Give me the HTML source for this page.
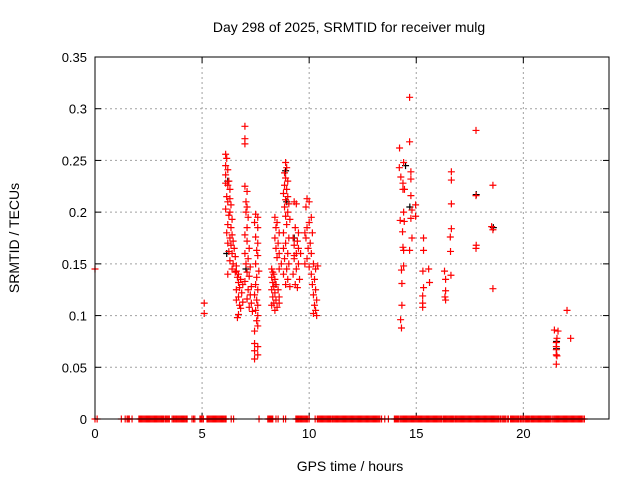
<!DOCTYPE html>
<html><head><meta charset="utf-8"><style>
body{margin:0;background:#fff;}
svg{display:block;font-family:"Liberation Sans",sans-serif;}
</style></head><body>
<svg id="chart" width="640" height="480" viewBox="0 0 640 480" xmlns="http://www.w3.org/2000/svg">
<rect width="640" height="480" fill="#fff"/>
<text x="349" y="32" font-size="14" text-anchor="middle">Day 298 of 2025, SRMTID for receiver mulg</text>
<text transform="translate(19,238) rotate(-90)" font-size="14" text-anchor="middle">SRMTID / TECUs</text>
<text x="350" y="471" font-size="14" text-anchor="middle">GPS time / hours</text>
<g id="grid"></g>
<g id="marks"></g>
<rect x="95" y="57" width="514" height="362" fill="none" stroke="#000" stroke-width="1"/>
</svg>
<script>
const xTicks=[0,5,10,15,20];
const yTicks=[0,0.05,0.1,0.15,0.2,0.25,0.3,0.35];
const yTickLabels=["0","0.05","0.1","0.15","0.2","0.25","0.3","0.35"];
const redTimes=[0,5.1,5.1,7.0,7.0,7.0,
6.1,6.15,6.1,6.2,6.1,6.25,6.1,6.2,6.3,6.15,6.3,6.2,6.35,6.1,6.3,6.25,6.4,6.2,6.35,6.15,6.4,6.3,6.45,6.2,6.35,6.5,6.25,6.4,6.55,6.3,6.45,6.6,6.4,6.55,6.2,
6.6,6.7,6.65,6.8,6.7,6.9,6.75,6.6,6.85,6.7,6.6,6.9,6.75,6.8,6.7,6.65,
7.0,7.1,7.05,7.1,7.05,7.15,7.1,7.0,7.1,7.2,7.0,7.15,7.05,7.25,7.1,7.2,7.0,7.3,7.15,7.25,7.1,7.3,7.2,7.35,
7.5,7.6,7.45,7.6,7.5,7.6,7.55,7.6,7.5,7.65,7.55,7.5,7.6,7.45,7.55,7.6,7.5,7.6,7.55,7.6,7.45,7.45,7.6,7.45,7.6,7.45,
8.25,8.3,8.35,8.25,8.4,8.3,8.45,8.35,8.25,8.4,8.3,8.45,8.35,8.25,8.5,8.4,8.6,8.55,8.6,
8.4,8.5,8.45,8.6,8.4,8.55,8.45,8.6,8.5,8.7,8.6,
8.9,8.95,8.85,8.9,9.0,8.85,8.95,8.8,9.0,8.9,9.05,8.85,9.0,8.9,9.1,8.95,8.8,9.05,8.9,8.8,9.0,8.85,9.05,8.95,8.8,9.0,8.9,9.1,
9.3,9.4,9.35,9.5,9.25,9.45,9.3,9.5,9.4,9.3,9.5,9.4,9.25,9.55,9.35,9.45,9.3,9.6,
9.9,10.0,9.85,10.1,10.0,9.9,10.15,9.85,10.05,9.95,10.1,9.9,10.2,10.0,10.3,10.1,10.25,10.15,10.3,10.2,10.35,10.25,10.3,10.2,10.35,9.8,9.8,10.4,
14.69,17.79,14.69,14.22,14.41,14.21,14.75,16.64,14.28,14.75,16.64,14.38,18.58,14.38,14.45,17.79,14.75,14.97,16.64,14.80,14.41,14.25,14.44,14.75,14.97,16.64,18.52,18.58,14.36,14.80,15.34,16.59,17.80,17.79,14.38,14.41,14.69,15.34,16.60,14.41,14.31,15.31,15.58,16.32,16.62,16.37,15.62,15.34,14.33,18.58,15.30,16.37,16.34,16.37,15.30,15.30,14.33,14.27,14.31,
22.04,21.45,21.62,21.57,22.21,21.54,21.54,21.54,21.54,21.57,21.54];
const redValues=[0.145,0.112,0.102,0.283,0.271,0.266,
0.256,0.252,0.245,0.241,0.236,0.230,0.228,0.226,0.222,0.215,0.213,0.210,0.207,0.203,0.200,0.197,0.193,0.188,0.185,0.180,0.178,0.175,0.172,0.170,0.168,0.165,0.162,0.160,0.157,0.153,0.150,0.148,0.145,0.142,0.140,
0.143,0.140,0.137,0.135,0.132,0.130,0.127,0.125,0.122,0.118,0.115,0.113,0.110,0.107,0.101,0.098,
0.225,0.220,0.210,0.205,0.200,0.195,0.185,0.178,0.172,0.165,0.160,0.155,0.150,0.147,0.142,0.138,0.133,0.128,0.125,0.120,0.116,0.112,0.108,0.104,
0.198,0.195,0.190,0.185,0.176,0.170,0.163,0.158,0.150,0.143,0.137,0.130,0.125,0.120,0.115,0.110,0.105,0.100,0.095,0.090,0.085,0.073,0.070,0.066,0.062,0.058,
0.145,0.142,0.140,0.137,0.135,0.132,0.130,0.128,0.125,0.122,0.118,0.115,0.112,0.110,0.108,0.105,0.118,0.125,0.112,
0.195,0.190,0.185,0.180,0.175,0.170,0.165,0.160,0.156,0.150,0.145,
0.248,0.243,0.238,0.233,0.230,0.226,0.222,0.218,0.215,0.212,0.208,0.205,0.200,0.196,0.193,0.188,0.180,0.175,0.170,0.165,0.160,0.155,0.150,0.145,0.140,0.135,0.130,0.128,
0.210,0.208,0.185,0.180,0.175,0.172,0.168,0.165,0.160,0.155,0.150,0.145,0.140,0.135,0.130,0.127,0.158,0.160,
0.213,0.210,0.205,0.195,0.190,0.185,0.180,0.175,0.170,0.165,0.160,0.155,0.150,0.147,0.145,0.140,0.135,0.130,0.125,0.120,0.115,0.110,0.105,0.102,0.100,0.180,0.150,0.148,
0.311,0.279,0.268,0.262,0.248,0.243,0.239,0.239,0.234,0.232,0.231,0.228,0.226,0.222,0.222,0.216,0.216,0.207,0.208,0.202,0.200,0.192,0.191,0.194,0.196,0.184,0.186,0.183,0.181,0.175,0.175,0.176,0.168,0.165,0.166,0.163,0.163,0.163,0.162,0.148,0.144,0.143,0.145,0.143,0.139,0.135,0.132,0.127,0.131,0.126,0.119,0.124,0.118,0.115,0.112,0.108,0.110,0.096,0.088,
0.105,0.086,0.085,0.078,0.078,0.074,0.070,0.067,0.062,0.061,0.053];
const blackTimes=[6.2,6.15,8.9,8.95,9.3,14.5,14.7,17.8,18.6,21.55,21.55,7.05,8.45];
const blackValues=[0.230,0.160,0.240,0.210,0.175,0.245,0.205,0.217,0.185,0.075,0.068,0.145,0.130];
const zeroTimes=[0,0.1,1.23,1.41,1.5,1.55,1.6,1.73,
2.05,2.1,2.15,2.2,2.25,2.3,2.35,2.4,2.45,2.5,2.55,2.6,2.65,2.7,2.75,2.8,2.85,
2.9,2.95,3.0,3.05,3.1,3.15,3.2,3.27,3.32,3.37,3.42,3.47,3.6,3.66,3.7,3.75,3.8,
3.86,3.91,3.96,4.01,4.06,4.11,4.16,4.21,4.26,4.3,4.53,4.6,4.66,4.9,4.95,5.0,5.06,
5.23,5.28,5.33,5.38,5.43,5.48,5.53,5.58,5.63,5.68,5.73,5.78,5.83,5.88,5.93,5.98,6.03,6.08,6.12,6.36,6.47,7.66,
8.07,8.12,8.17,8.22,8.27,8.3,8.45,8.55,8.8,8.9,9.38,9.43,9.48,9.53,9.58,9.62,9.67,9.72,9.77,9.82,9.87,9.93,10.0,10.28,10.38,
10.4,10.45,10.5,10.55,10.6,10.65,10.7,10.75,10.8,10.85,10.9,10.95,11.0,11.06,
11.1,11.15,11.2,11.25,11.3,11.35,11.4,11.45,11.5,11.55,11.6,11.65,11.7,11.75,11.8,11.85,11.9,11.95,12.0,12.05,12.1,12.15,12.2,12.25,12.3,12.35,12.4,12.45,12.5,12.55,12.6,12.65,12.7,12.75,12.8,12.85,12.9,12.95,13.0,13.05,13.1,13.15,13.2,13.25,13.3,13.38,
13.53,13.7,13.98,14.03,14.08,14.13,14.18,14.25,
14.3,14.35,14.4,14.45,14.5,14.55,14.6,14.65,14.7,14.75,14.8,14.85,14.9,14.95,15.0,15.05,15.1,15.15,15.2,15.25,15.3,15.35,15.4,15.45,15.5,15.55,15.6,15.65,15.7,15.75,15.8,15.85,15.9,15.95,16.0,16.05,16.1,16.15,16.2,
16.27,16.32,16.37,16.42,16.47,16.52,16.57,16.62,16.67,16.72,16.77,16.83,
16.86,16.91,16.96,17.01,17.06,17.11,17.16,17.21,17.26,17.31,17.36,17.41,17.46,17.51,17.56,17.61,17.66,17.71,17.76,17.81,17.86,17.91,17.96,18.01,18.06,18.11,18.16,18.21,18.26,18.31,18.36,18.41,18.46,18.51,18.56,18.61,18.66,18.71,18.76,18.81,18.86,18.93,19.0,
19.06,19.11,19.16,19.24,19.3,19.4,19.42,19.47,19.52,19.57,19.62,19.67,19.72,19.77,19.84,19.88,19.94,20.0,
20.07,20.12,20.17,20.22,20.27,20.32,20.38,
20.43,20.48,20.53,20.58,20.63,20.68,20.73,20.78,20.83,20.88,20.93,20.98,21.03,21.08,21.13,21.18,21.23,21.28,21.35,
21.42,21.47,21.52,21.57,21.62,21.67,21.72,21.77,21.82,21.87,21.92,21.97,22.02,22.07,22.12,22.17,22.22,22.27,22.32,22.37,22.42,22.47,22.52,22.57,22.62,22.67,22.72,22.78,22.85];

const X0=95,X1=609,Y0=419,Y1=57,XMAX=24,YMAX=0.35;
function xs(h){return X0+(h/XMAX)*(X1-X0);}
function ys(v){return Y0-(v/YMAX)*(Y0-Y1);}
const NS="http://www.w3.org/2000/svg";
const grid=document.getElementById('grid'), marks=document.getElementById('marks');
function mk(tag,attrs,parent){const e=document.createElementNS(NS,tag);for(const k in attrs)e.setAttribute(k,attrs[k]);parent.appendChild(e);return e;}
xTicks.forEach(t=>{
  const x=xs(t);
  if(t>0){const g=mk('line',{x1:x,y1:Y1,x2:x,y2:Y0,stroke:'#a0a0a0','stroke-dasharray':'2,3'},grid);
  
  }
  mk('line',{x1:x,y1:Y0,x2:x,y2:Y0-6,stroke:'#000'},grid);
  mk('line',{x1:x,y1:Y1,x2:x,y2:Y1+6,stroke:'#000'},grid);
  const l=mk('text',{x:x,y:Y0+19,'font-size':13,'text-anchor':'middle'},grid);
  l.textContent=String(t);
  
  
});
yTicks.forEach((t,i)=>{
  const y=ys(t);
  if(t>0&&t<YMAX){const g=mk('line',{x1:X0,y1:y,x2:X1,y2:y,stroke:'#a0a0a0','stroke-dasharray':'2,3'},grid);
  
  }
  mk('line',{x1:X0,y1:y,x2:X0+6,y2:y,stroke:'#000'},grid);
  mk('line',{x1:X1,y1:y,x2:X1-6,y2:y,stroke:'#000'},grid);
  const l=mk('text',{x:X0-8,y:y+5,'font-size':13,'text-anchor':'end'},grid);
  l.textContent=yTickLabels[i];
  
  
});
function cross(h,v,color,name){
  const x=xs(h),y=ys(v),s=3.5;
  const p=mk('path',{d:`M${x-s},${y}H${x+s}M${x},${y-s}V${y+s}`,stroke:color,'stroke-width':1.2,fill:'none'},marks);
  
  
}
blackTimes.forEach((h,i)=>cross(h,blackValues[i],'#000','black-point'));
redTimes.forEach((h,i)=>cross(h,redValues[i],'#ff0000','red-point'));
zeroTimes.forEach(h=>cross(h,0,'#ff0000','zero-point'));
</script>
</body></html>
